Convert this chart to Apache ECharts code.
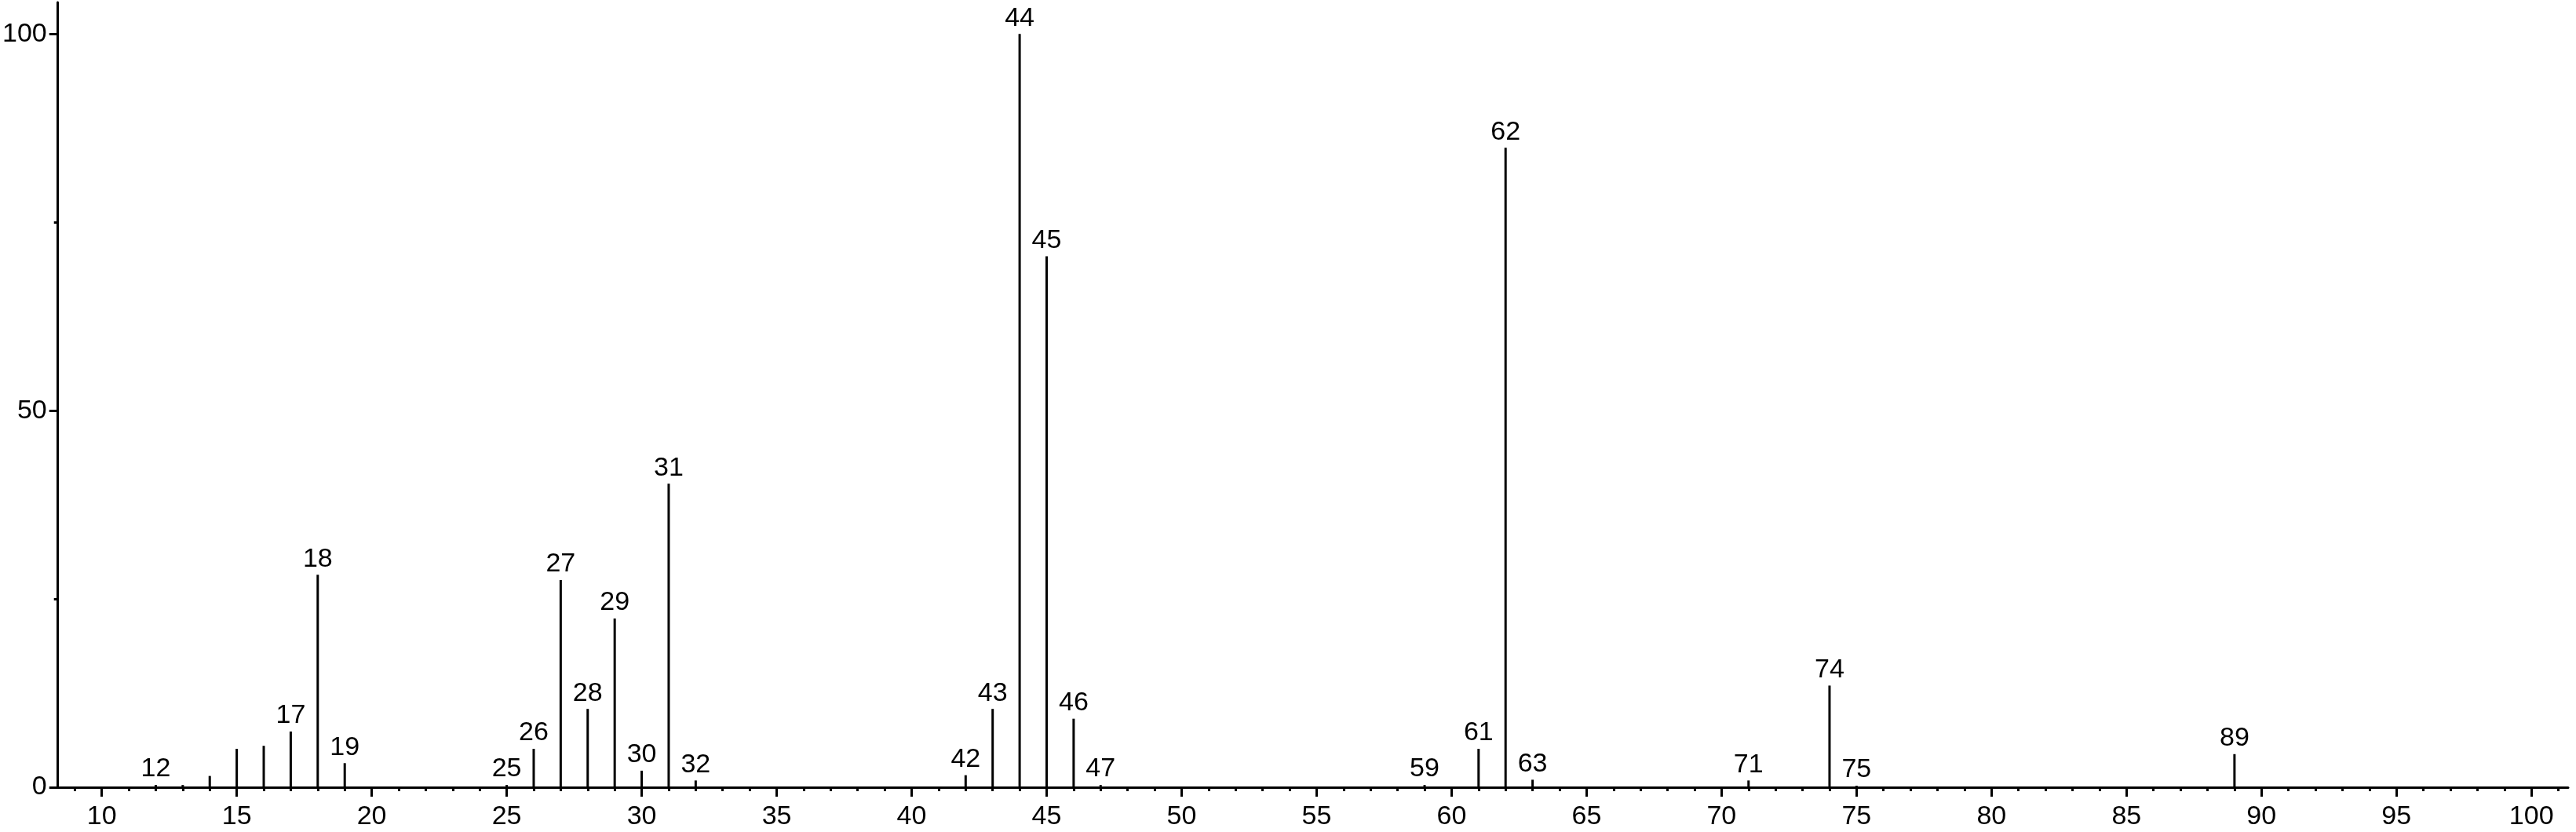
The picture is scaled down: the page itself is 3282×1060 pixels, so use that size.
<!DOCTYPE html>
<html>
<head>
<meta charset="utf-8">
<script src="https://cdn.jsdelivr.net/npm/echarts@6/dist/echarts.min.js"></script>
<style>
html,body{margin:0;padding:0;background:#fff;}
#chart{width:3282px;height:1060px;}
</style>
</head>
<body>
<div id="chart"></div>
<script>
// m/z values and relative intensities (%)
const mz        = [12, 13, 14, 15, 16, 17, 18, 19, 25, 26, 27, 28, 29, 30, 31, 32, 42, 43, 44, 45, 46, 47, 59, 61, 62, 63, 71, 74, 75, 89];
const intensity = [0.3, 0.3, 1.5, 5.1, 5.5, 7.4, 28.2, 3.2, 0.3, 5.1, 27.5, 10.4, 22.4, 2.2, 40.3, 0.9, 1.6, 10.4, 100, 70.5, 9.1, 0.3, 0.3, 5.1, 84.9, 1.0, 0.9, 13.5, 0.2, 4.4];
const labeledMz = [12, 17, 18, 19, 25, 26, 27, 28, 29, 30, 31, 32, 42, 43, 44, 45, 46, 47, 59, 61, 62, 63, 71, 74, 75, 89];
// axis ticks
const xMajorTicks = [10, 15, 20, 25, 30, 35, 40, 45, 50, 55, 60, 65, 70, 75, 80, 85, 90, 95, 100];
const xMinorTicks = [];
for (let v = 9; v <= 101; v++) xMinorTicks.push(v);
const yMajorTicks = [0, 50, 100];
const yMinorTicks = [25, 75];

const X_MIN = 8.374, X_MAX = 101.36, Y_MIN = 0, Y_MAX = 104.2;
const FONT = 'Liberation Sans, Arial, Helvetica, sans-serif';

const data = mz.map((m, i) => ({
  value: [m, intensity[i]],
  label: { show: labeledMz.indexOf(m) >= 0 }
}));

const chart = echarts.init(document.getElementById('chart'), null, { renderer: 'canvas' });
chart.setOption({
  animation: false,
  backgroundColor: '#fff',
  grid: { left: 69, right: 10, top: 3, bottom: 57, containLabel: false },
  xAxis: [
    {
      type: 'value', min: X_MIN, max: X_MAX, position: 'bottom',
      axisLine: { show: true, onZero: false, lineStyle: { color: '#000', width: 3 } },
      axisTick: { show: true, customValues: xMajorTicks, length: 12, lineStyle: { color: '#000', width: 3 } },
      axisLabel: { show: true, customValues: xMajorTicks, margin: 21, color: '#000', fontSize: 34, fontFamily: FONT,
                   showMinLabel: true, showMaxLabel: true },
      splitLine: { show: false }
    },
    {
      type: 'value', min: X_MIN, max: X_MAX, position: 'bottom',
      axisLine: { show: false, onZero: false },
      axisTick: { show: true, customValues: xMinorTicks, length: 5, lineStyle: { color: '#000', width: 3 } },
      axisLabel: { show: false },
      splitLine: { show: false }
    }
  ],
  yAxis: [
    {
      type: 'value', min: Y_MIN, max: Y_MAX, position: 'left',
      axisLine: { show: true, onZero: false, lineStyle: { color: '#000', width: 3 } },
      axisTick: { show: true, customValues: yMajorTicks, length: 11, lineStyle: { color: '#000', width: 3 } },
      axisLabel: { show: true, customValues: yMajorTicks, margin: 14, color: '#000', fontSize: 34, fontFamily: FONT },
      splitLine: { show: false }
    },
    {
      type: 'value', min: Y_MIN, max: Y_MAX, position: 'left',
      axisLine: { show: false, onZero: false },
      axisTick: { show: true, customValues: yMinorTicks, length: 5, lineStyle: { color: '#000', width: 3 } },
      axisLabel: { show: false },
      splitLine: { show: false }
    }
  ],
  series: [{
    type: 'bar',
    xAxisIndex: 0, yAxisIndex: 0,
    barWidth: 3,
    itemStyle: { color: '#000' },
    label: {
      position: 'top', distance: 3, color: '#000', fontSize: 34, fontFamily: FONT,
      formatter: p => String(p.value[0])
    },
    data: data
  }]
});
</script>
</body>
</html>
